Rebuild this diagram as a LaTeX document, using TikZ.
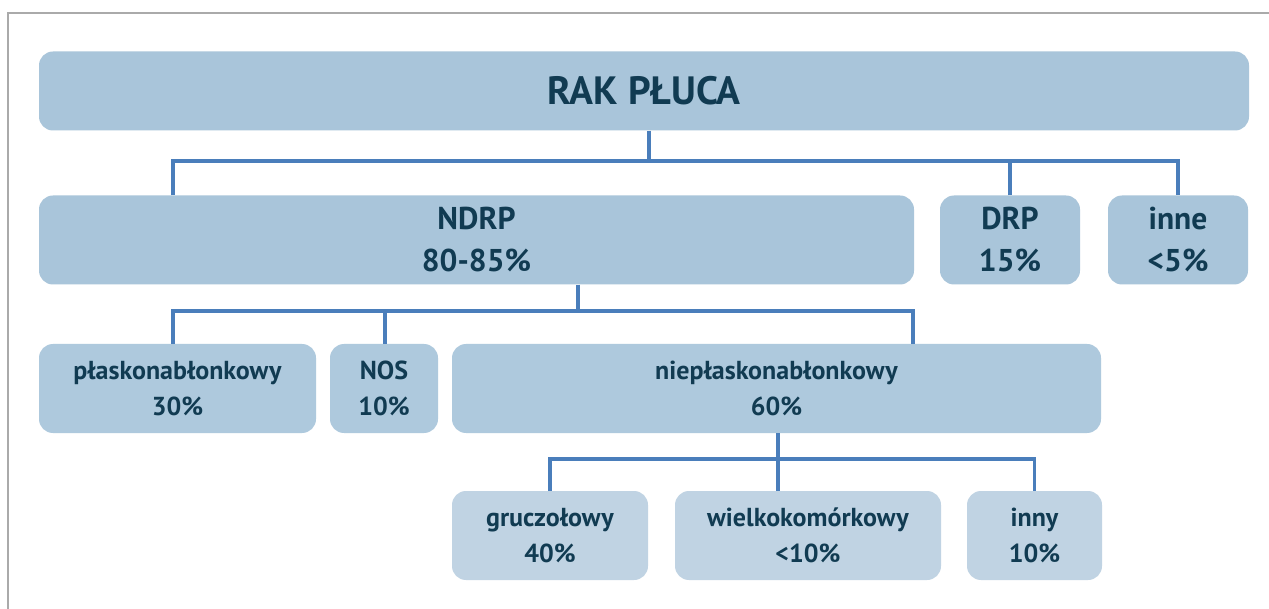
\documentclass[tikz,border=0pt]{standalone}
\usepackage{fontspec}
\setmainfont{PT Sans}
\definecolor{boxA}{HTML}{A9C5DA}
\definecolor{boxB}{HTML}{AEC9DD}
\definecolor{boxC}{HTML}{C0D3E3}
\definecolor{txt}{HTML}{113B52}
\definecolor{conn}{HTML}{4A7EBB}
\definecolor{frame}{HTML}{AAAAAA}
\tikzset{
  box/.style={draw=none, rounded corners=14pt, inner sep=0pt, align=center,
    text=txt, font=\bfseries},
  lvlA/.style={box, fill=boxA, font=\bfseries\fontsize{31.5}{42}\selectfont},
  lvlB/.style={box, fill=boxB, font=\bfseries\fontsize{26}{36}\selectfont},
  lvlC/.style={box, fill=boxC, font=\bfseries\fontsize{26}{36}\selectfont},
  link/.style={draw=conn, line width=3.2pt},
  frameline/.style={draw=frame, line width=1.8pt}
}
\begin{document}
\begin{tikzpicture}[x=1pt, y=-1pt]
\useasboundingbox (0,0) rectangle (1269,609);
\fill[white] (0,0) rectangle (1269,609);
\draw[frameline] (8,609) -- (8,13) -- (1269,13);

% level 1
\node[lvlA, minimum width=1210pt, minimum height=79pt, font=\bfseries\fontsize{39.5}{46}\selectfont] (rak) at (644,91) {RAK PŁUCA};
% level 2
\node[lvlA, minimum width=875pt, minimum height=89pt] (ndrp) at (476.5,240) {NDRP\\80-85\%};
\node[lvlA, minimum width=140pt, minimum height=89pt] (drp) at (1010,240) {DRP\\15\%};
\node[lvlA, minimum width=140pt, minimum height=89pt] (inne) at (1178,240) {inne\\<5\%};
% level 3
\node[lvlB, minimum width=277pt, minimum height=89pt] (plasko) at (177.5,388.5) {płaskonabłonkowy\\30\%};
\node[lvlB, minimum width=108pt, minimum height=89pt] (nos) at (384,388.5) {NOS\\10\%};
\node[lvlB, minimum width=649pt, minimum height=89pt] (niepl) at (776.5,388.5) {niepłaskonabłonkowy\\60\%};
% level 4
\node[lvlC, minimum width=196pt, minimum height=89pt] (grucz) at (550,535.5) {gruczołowy\\40\%};
\node[lvlC, minimum width=266pt, minimum height=89pt] (wielko) at (808,535.5) {wielkokomórkowy\\<10\%};
\node[lvlC, minimum width=135pt, minimum height=89pt] (inny) at (1034.5,535.5) {inny\\10\%};

% connectors level 1 -> 2
\coordinate (j1) at (649,161);
\draw[link] (rak.south -| j1) -- (j1);
\draw[link] (ndrp.north -| 173,0) |- (j1) -| (inne.north);
\draw[link] (drp.north) -- (drp.north |- j1);

% connectors NDRP -> level 3
\coordinate (j2) at (578,311);
\draw[link] (ndrp.south -| j2) -- (j2);
\draw[link] (plasko.north -| 173,0) |- (j2) -| (niepl.north -| 913,0);
\draw[link] (nos.north -| 385,0) -- (385,311);

% connectors niepl -> level 4
\coordinate (j3) at (778,459);
\draw[link] (niepl.south -| j3) -- (wielko.north -| j3);
\draw[link] (grucz.north) |- (j3) -| (inny.north);
\end{tikzpicture}
\end{document}
